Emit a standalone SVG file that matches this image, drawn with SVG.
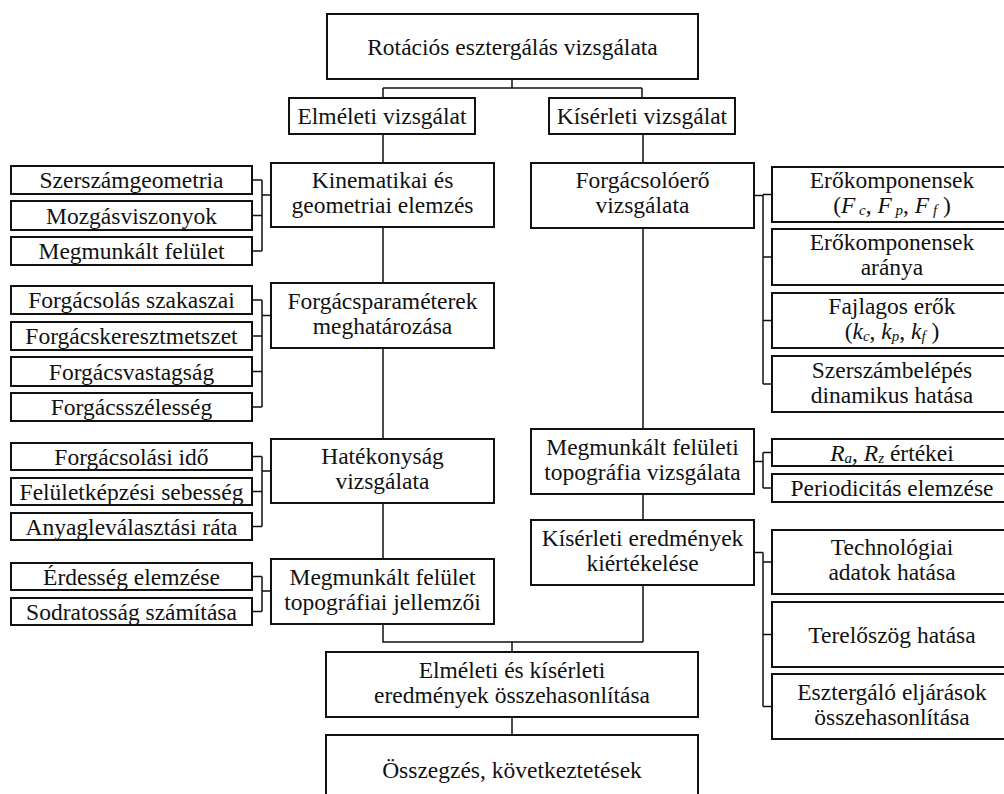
<svg xmlns="http://www.w3.org/2000/svg" width="1004" height="794" viewBox="0 0 1004 794">
<style>
.b{fill:#fff;stroke:#111;stroke-width:2}
.t{font-family:"Liberation Serif","Times New Roman",serif;font-size:23.5px;fill:#111;text-anchor:middle}
.i{font-style:italic}
.s{font-style:italic;font-size:15px}
#connectors path{fill:none;stroke:#111;stroke-width:1.5}
</style>
<rect width="1004" height="794" fill="#fff"/>
<g id="connectors">
<path d="M512,79V88M383,88H642M383,88V98M642,88V98"/>
<path d="M383,134V163M383,227V283M383,348V439M383,503V559M383,624V642H643"/>
<path d="M643,134V163M643,228V429M643,494V520M643,585V642"/>
<path d="M512,642V652M512,717V735"/>
<path d="M252,180H262M252,215.5H262M252,251H262M262,180V251M262,195H271"/>
<path d="M252,300H262M252,336H262M252,371.5H262M252,407H262M262,300V407M262,315.5H271"/>
<path d="M252,456.5H262M252,491.5H262M252,526.5H262M262,456.5V526.5M262,471H271"/>
<path d="M252,576.5H262M252,611.5H262M262,576.5V611.5M262,591H271"/>
<path d="M754,195.5H763M763,194.5V384M763,194.5H772M763,257H772M763,320.5H772M763,384H772"/>
<path d="M754,461.5H763M763,452.5V488M763,452.5H772M763,488H772"/>
<path d="M754,552.5H763M763,552.5V706.5M763,562H772M763,634.5H772M763,706.5H772"/>
</g>
<g id="n-root"><rect class="b" x="327" y="14" width="371" height="65"/><text class="t" x="512.5" y="55">Rotációs esztergálás vizsgálata</text></g>
<g id="n-elm"><rect class="b" x="289" y="98" width="186" height="36"/><text class="t" x="382" y="124">Elméleti vizsgálat</text></g>
<g id="n-kis"><rect class="b" x="549" y="98" width="186" height="36"/><text class="t" x="642" y="124">Kísérleti vizsgálat</text></g>
<g id="n-kin"><rect class="b" x="271" y="163" width="223" height="64"/><text class="t" x="382.5" y="188">Kinematikai és</text><text class="t" x="382.5" y="213">geometriai elemzés</text></g>
<g id="n-fpar"><rect class="b" x="271" y="283" width="223" height="65"/><text class="t" x="382.5" y="309">Forgácsparaméterek</text><text class="t" x="382.5" y="334">meghatározása</text></g>
<g id="n-hat"><rect class="b" x="271" y="439" width="223" height="64"/><text class="t" x="382.5" y="464">Hatékonyság</text><text class="t" x="382.5" y="489">vizsgálata</text></g>
<g id="n-mft"><rect class="b" x="271" y="559" width="223" height="65"/><text class="t" x="382.5" y="585">Megmunkált felület</text><text class="t" x="382.5" y="610">topográfiai jellemzői</text></g>
<g id="n-fero"><rect class="b" x="531" y="163" width="223" height="65"/><text class="t" x="642.5" y="188">Forgácsolóerő</text><text class="t" x="642.5" y="213">vizsgálata</text></g>
<g id="n-mfel"><rect class="b" x="531" y="429" width="223" height="65"/><text class="t" x="642.5" y="455">Megmunkált felületi</text><text class="t" x="642.5" y="480">topográfia vizsgálata</text></g>
<g id="n-ker"><rect class="b" x="531" y="520" width="223" height="65"/><text class="t" x="642.5" y="546">Kísérleti eredmények</text><text class="t" x="642.5" y="571">kiértékelése</text></g>
<g id="n-osszh"><rect class="b" x="326" y="652" width="372" height="65"/><text class="t" x="512" y="678">Elméleti és kísérleti</text><text class="t" x="512" y="703">eredmények összehasonlítása</text></g>
<g id="n-ossz"><rect class="b" x="326" y="735" width="372" height="70"/><text class="t" x="512" y="778">Összegzés, következtetések</text></g>
<g id="l1"><rect class="b" x="11" y="166" width="241" height="28"/><text class="t" x="131.5" y="188">Szerszámgeometria</text></g>
<g id="l2"><rect class="b" x="11" y="201" width="241" height="29"/><text class="t" x="131.5" y="223.5">Mozgásviszonyok</text></g>
<g id="l3"><rect class="b" x="11" y="237" width="241" height="28"/><text class="t" x="131.5" y="259">Megmunkált felület</text></g>
<g id="l4"><rect class="b" x="11" y="286" width="241" height="28"/><text class="t" x="131.5" y="308">Forgácsolás szakaszai</text></g>
<g id="l5"><rect class="b" x="11" y="322" width="241" height="28"/><text class="t" x="131.5" y="344">Forgácskeresztmetszet</text></g>
<g id="l6"><rect class="b" x="11" y="357" width="241" height="29"/><text class="t" x="131.5" y="379.5">Forgácsvastagság</text></g>
<g id="l7"><rect class="b" x="11" y="393" width="241" height="28"/><text class="t" x="131.5" y="415">Forgácsszélesség</text></g>
<g id="l8"><rect class="b" x="11" y="443" width="241" height="27"/><text class="t" x="131.5" y="464.5">Forgácsolási idő</text></g>
<g id="l9"><rect class="b" x="11" y="478" width="241" height="27"/><text class="t" x="131.5" y="499.5">Felületképzési sebesség</text></g>
<g id="l10"><rect class="b" x="11" y="513" width="241" height="27"/><text class="t" x="131.5" y="534.5">Anyagleválasztási ráta</text></g>
<g id="l11"><rect class="b" x="11" y="563" width="241" height="27"/><text class="t" x="131.5" y="584.5">Érdesség elemzése</text></g>
<g id="l12"><rect class="b" x="11" y="598" width="241" height="27"/><text class="t" x="131.5" y="619.5">Sodratosság számítása</text></g>
<g id="r1"><rect class="b" x="772" y="167" width="240" height="55"/><text class="t" x="892" y="187.5">Erőkomponensek</text><text class="t" x="892" y="213">(<tspan class="i">F</tspan><tspan class="s" dy="2"> c</tspan><tspan dy="-2">, </tspan><tspan class="i">F</tspan><tspan class="s" dy="2"> p</tspan><tspan dy="-2">, </tspan><tspan class="i">F</tspan><tspan class="s" dy="2"> f</tspan><tspan dy="-2"> )</tspan></text></g>
<g id="r2"><rect class="b" x="772" y="229" width="240" height="56"/><text class="t" x="892" y="250">Erőkomponensek</text><text class="t" x="892" y="275">aránya</text></g>
<g id="r3"><rect class="b" x="772" y="293" width="240" height="55"/><text class="t" x="892" y="313.5">Fajlagos erők</text><text class="t" x="892" y="339">(<tspan class="i">k</tspan><tspan class="s" dy="2">c</tspan><tspan dy="-2">, </tspan><tspan class="i">k</tspan><tspan class="s" dy="2">p</tspan><tspan dy="-2">, </tspan><tspan class="i">k</tspan><tspan class="s" dy="2">f</tspan><tspan dy="-2"> )</tspan></text></g>
<g id="r4"><rect class="b" x="772" y="356" width="240" height="56"/><text class="t" x="892" y="378">Szerszámbelépés</text><text class="t" x="892" y="403">dinamikus hatása</text></g>
<g id="r5"><rect class="b" x="772" y="439" width="240" height="27"/><text class="t" x="892" y="460.5"><tspan class="i">R</tspan><tspan class="s" dy="2">a</tspan><tspan dy="-2">, </tspan><tspan class="i">R</tspan><tspan class="s" dy="2">z</tspan><tspan dy="-2"> értékei</tspan></text></g>
<g id="r6"><rect class="b" x="772" y="474" width="240" height="28"/><text class="t" x="892" y="496">Periodicitás elemzése</text></g>
<g id="r7"><rect class="b" x="772" y="530" width="240" height="64"/><text class="t" x="892" y="555">Technológiai</text><text class="t" x="892" y="580">adatok hatása</text></g>
<g id="r8"><rect class="b" x="772" y="602" width="240" height="65"/><text class="t" x="892" y="642.5">Terelőszög hatása</text></g>
<g id="r9"><rect class="b" x="772" y="674" width="240" height="65"/><text class="t" x="892" y="700">Esztergáló eljárások</text><text class="t" x="892" y="725">összehasonlítása</text></g>
</svg>
